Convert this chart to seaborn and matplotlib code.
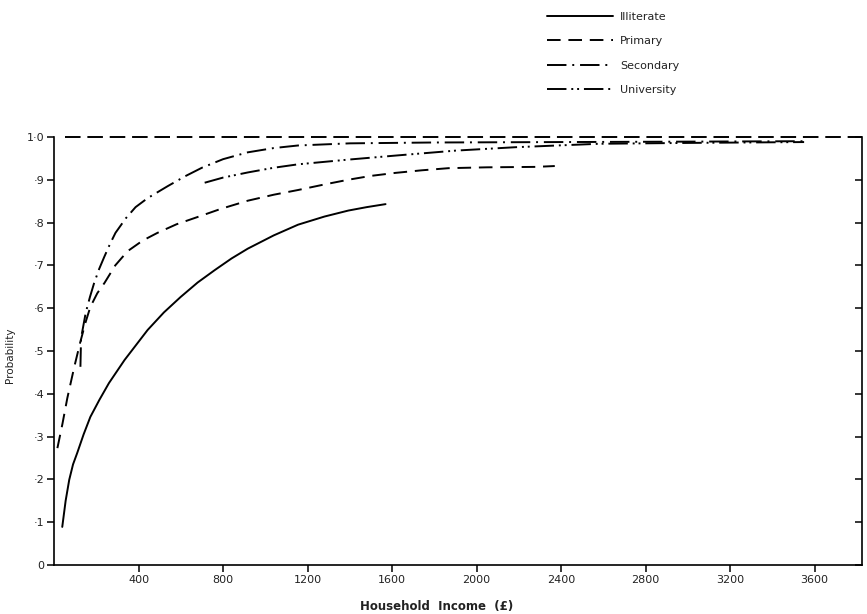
import matplotlib
matplotlib.use("Agg")
import matplotlib.pyplot as plt
import seaborn as sns
import pandas as pd

# Household income (£) and probability, by education of household head
illiterate_x = [39, 55, 72, 90, 110, 140, 172, 215, 260, 334, 443, 520, 599, 680, 761, 840, 917, 1040, 1155, 1280, 1393, 1480, 1569]
illiterate_y = [0.089, 0.15, 0.199, 0.235, 0.262, 0.305, 0.346, 0.386, 0.425, 0.479, 0.549, 0.59, 0.626, 0.66, 0.689, 0.716, 0.739, 0.770, 0.795, 0.814, 0.828, 0.836, 0.843]

primary_x = [16, 40, 63, 96, 125, 150, 172, 205, 239, 290, 348, 420, 490, 580, 680, 790, 917, 1040, 1155, 1280, 1393, 1500, 1616, 1740, 1867, 2050, 2280, 2370]
primary_y = [0.273, 0.33, 0.39, 0.463, 0.522, 0.568, 0.603, 0.635, 0.659, 0.70, 0.733, 0.758, 0.776, 0.796, 0.813, 0.832, 0.851, 0.865, 0.876, 0.889, 0.9, 0.909, 0.916, 0.922, 0.927, 0.929, 0.930, 0.932]

secondary_x = [125, 128, 150, 170, 190, 214, 238, 265, 291, 340, 386, 443, 538, 620, 700, 800, 917, 1040, 1155, 1400, 1800, 2400, 3000, 3550]
secondary_y = [0.463, 0.53, 0.589, 0.626, 0.659, 0.692, 0.72, 0.75, 0.776, 0.81, 0.836, 0.857, 0.885, 0.908, 0.928, 0.948, 0.964, 0.974, 0.980, 0.985, 0.987, 0.988, 0.989, 0.99]

university_x = [713, 800, 917, 1040, 1155, 1393, 1630, 1900, 2185, 2580, 3000, 3550]
university_y = [0.893, 0.905, 0.917, 0.928, 0.936, 0.947, 0.957, 0.968, 0.976, 0.984, 0.986, 0.988]

groups = ["Illiterate", "Primary", "Secondary", "University"]
x_ticks = [400, 800, 1200, 1600, 2000, 2400, 2800, 3200, 3600]
y_ticks = [0, 0.1, 0.2, 0.3, 0.4, 0.5, 0.6, 0.7, 0.8, 0.9, 1.0]
y_tick_labels = ["0", "·1", "·2", "·3", "·4", "·5", "·6", "·7", "·8", "·9", "1·0"]

frames = []
for name, xs, ys in zip(groups,
                        [illiterate_x, primary_x, secondary_x, university_x],
                        [illiterate_y, primary_y, secondary_y, university_y]):
    frames.append(pd.DataFrame({"Income": xs, "Probability": ys, "Education": name}))
df = pd.concat(frames, ignore_index=True)

sns.set_theme(style="white")
plt.rcParams["font.family"] = ["DejaVu Sans"]

fig = plt.figure(figsize=(8.67, 6.14), dpi=100)
ax = fig.add_axes([0.0623, 0.0798, 0.9317, 0.6972])

dash_styles = {
    "Illiterate": "",
    "Primary": (7, 4),
    "Secondary": (10, 3, 1, 3),
    "University": (10, 2.5, 1, 2, 1, 2.5),
}
sns.lineplot(data=df, x="Income", y="Probability", style="Education",
             style_order=groups, dashes=dash_styles, color="black",
             linewidth=1.4, sort=False, estimator=None, ax=ax, legend=True)

# Upper bound of probability
ax.axhline(1.0, xmin=0.014, xmax=1.0, color="black", linewidth=1.4,
           dashes=(8, 3.5), clip_on=False)

ax.set_xlim(0, 3823)
ax.set_ylim(0, 1.0)
ax.set_xticks(x_ticks)
ax.set_xticklabels([str(t) for t in x_ticks])
ax.set_yticks(y_ticks)
ax.set_yticklabels(y_tick_labels)

for side in ["left", "bottom", "right"]:
    ax.spines[side].set_visible(True)
    ax.spines[side].set_color("black")
    ax.spines[side].set_linewidth(1.2)
ax.spines["top"].set_visible(False)

ax.tick_params(axis="both", which="major", direction="out", length=5, width=1.1,
               color="black", labelsize=8, labelcolor="#222222", pad=2,
               left=True, bottom=True)

# Inward ticks along the right edge
right = ax.secondary_yaxis("right")
right.set_yticks(y_ticks)
right.tick_params(direction="in", length=5, width=1.1, color="black", labelright=False)
right.spines["right"].set_visible(False)

ax.set_xlabel("Household  Income  (£)", fontsize=8.5, fontweight="semibold",
              color="#222222")
ax.xaxis.set_label_coords(0.474, -0.081)
ax.set_ylabel("Probability", fontsize=7.5, color="#222222")
ax.yaxis.set_label_coords(-0.048, 0.49)

handles, labels = ax.get_legend_handles_labels()
if ax.legend_ is not None:
    ax.legend_.remove()
fig.legend(handles=handles, labels=labels, loc="upper left",
           bbox_to_anchor=(0.619, 0.997), frameon=False, fontsize=8,
           handlelength=6.0, handletextpad=0.6, labelspacing=1.3,
           labelcolor="#222222")

fig.savefig("out.png", dpi=100, facecolor="white")
